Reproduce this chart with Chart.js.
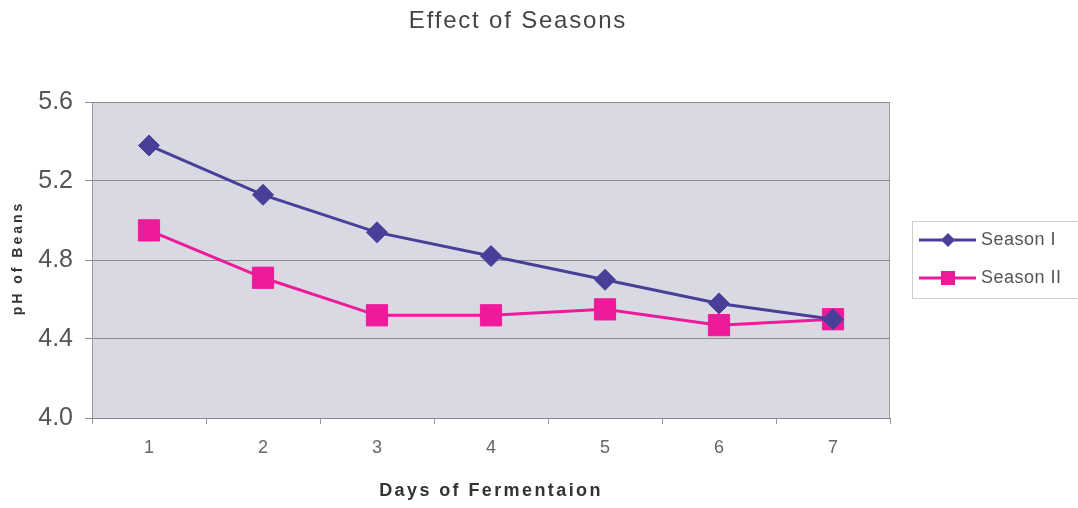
<!DOCTYPE html>
<html lang="en">
<head>
    <meta charset="UTF-8">
    <title>Effect of Seasons</title>
    <style>
        body {
            margin: 0;
            background: #ffffff;
        }

        .chart-box {
            width: 1078px;
            height: 508px;
        }
    </style>
    <script src="https://cdn.jsdelivr.net/npm/chart.js"></script>
</head>
<body>
    <div class="chart-box">
        <canvas id="phChart" width="1078" height="508"></canvas>
    </div>

    <script>
        const days = ['1', '2', '3', '4', '5', '6', '7'];
        const seasonOne = [5.38, 5.13, 4.94, 4.82, 4.70, 4.58, 4.50];
        const seasonTwo = [4.95, 4.71, 4.52, 4.52, 4.55, 4.47, 4.50];
        const yTicks = [4.0, 4.4, 4.8, 5.2, 5.6];

        const chartTitle = 'Effect of Seasons';
        const xTitle = 'Days of Fermentaion';
        const yTitle = 'pH of Beans';

        const blue = '#4a3f98';
        const pink = '#ee1a9a';
        const fontFamily = 'Arial, "Liberation Sans", sans-serif';

        // grey-lavender plot background with side borders
        const plotBackground = {
            id: 'plotBackground',
            beforeDraw(chart) {
                const { ctx, chartArea: a } = chart;
                ctx.save();
                ctx.fillStyle = '#d9d9e4';
                ctx.fillRect(a.left, a.top, a.right - a.left, a.bottom - a.top);
                ctx.strokeStyle = '#9a9a9a';
                ctx.lineWidth = 1;
                ctx.beginPath();
                ctx.moveTo(a.left + 0.5, a.top);
                ctx.lineTo(a.left + 0.5, a.bottom);
                ctx.moveTo(a.right - 0.5, a.top);
                ctx.lineTo(a.right - 0.5, a.bottom);
                ctx.stroke();
                ctx.restore();
            }
        };

        // titles are letter-spaced, so they are drawn here instead of by the built-in title boxes
        const spacedTitles = {
            id: 'spacedTitles',
            afterDraw(chart) {
                const { ctx, chartArea: a } = chart;
                ctx.save();
                ctx.textAlign = 'center';
                ctx.textBaseline = 'middle';

                ctx.fillStyle = '#444444';
                ctx.font = '24px ' + fontFamily;
                ctx.letterSpacing = '1.8px';
                ctx.fillText(chartTitle, 518, 21);

                ctx.fillStyle = '#333333';
                ctx.font = 'bold 18px ' + fontFamily;
                ctx.letterSpacing = '2.4px';
                ctx.fillText(xTitle, (a.left + a.right) / 2, 491);

                ctx.font = 'bold 14px ' + fontFamily;
                ctx.letterSpacing = '3px';
                ctx.translate(18, 258);
                ctx.rotate(-Math.PI / 2);
                ctx.fillText(yTitle, 0, 0);
                ctx.restore();
            }
        };

        // boxed legend with line + marker swatches
        const boxedLegend = {
            id: 'boxedLegend',
            afterDraw(chart) {
                const { ctx } = chart;
                const x = 912, y = 221, w = 170, h = 77;
                ctx.save();
                ctx.fillStyle = '#ffffff';
                ctx.fillRect(x, y, w, h);
                ctx.strokeStyle = '#cfcfcf';
                ctx.lineWidth = 1;
                ctx.strokeRect(x + 0.5, y + 0.5, w, h);

                chart.data.datasets.forEach((ds, i) => {
                    const cy = y + 19 + i * 38;
                    ctx.strokeStyle = ds.borderColor;
                    ctx.lineWidth = 3;
                    ctx.beginPath();
                    ctx.moveTo(x + 7, cy);
                    ctx.lineTo(x + 64, cy);
                    ctx.stroke();

                    ctx.fillStyle = ds.borderColor;
                    ctx.beginPath();
                    if (ds.pointStyle === 'rectRot') {
                        const r = 7;
                        ctx.moveTo(x + 36 - r, cy);
                        ctx.lineTo(x + 36, cy - r);
                        ctx.lineTo(x + 36 + r, cy);
                        ctx.lineTo(x + 36, cy + r);
                    } else {
                        ctx.rect(x + 29, cy - 7, 14, 14);
                    }
                    ctx.closePath();
                    ctx.fill();

                    ctx.fillStyle = '#555555';
                    ctx.font = '18px ' + fontFamily;
                    ctx.letterSpacing = '0.5px';
                    ctx.textBaseline = 'middle';
                    ctx.textAlign = 'left';
                    ctx.fillText(ds.label, x + 69, cy);
                });
                ctx.restore();
            }
        };

        const ctx = document.getElementById('phChart').getContext('2d');
        new Chart(ctx, {
            type: 'line',
            data: {
                labels: days,
                datasets: [
                    {
                        label: 'Season I',
                        data: seasonOne,
                        borderColor: blue,
                        backgroundColor: blue,
                        borderWidth: 3,
                        pointStyle: 'rectRot',
                        pointRadius: 10.5,
                        pointBorderWidth: 1,
                        tension: 0
                    },
                    {
                        label: 'Season II',
                        data: seasonTwo,
                        borderColor: pink,
                        backgroundColor: pink,
                        borderWidth: 3,
                        pointStyle: 'rect',
                        pointRadius: 15,
                        pointBorderWidth: 1,
                        tension: 0
                    }
                ]
            },
            options: {
                responsive: false,
                animation: false,
                layout: {
                    padding: { top: 102, left: 8, right: 188, bottom: 6 }
                },
                plugins: {
                    legend: { display: false },
                    tooltip: { enabled: false },
                    title: { display: false }
                },
                scales: {
                    x: {
                        offset: true,
                        grid: {
                            offset: true,
                            drawOnChartArea: false,
                            tickLength: 6,
                            color: '#9a9a9a'
                        },
                        border: { color: '#8a8a8a', width: 1 },
                        ticks: {
                            color: '#666666',
                            padding: 13,
                            font: { family: fontFamily, size: 18 }
                        },
                        afterFit(scale) {
                            scale.height = 84;
                        }
                    },
                    y: {
                        min: 4.0,
                        max: 5.6,
                        afterBuildTicks(scale) {
                            scale.ticks = yTicks.map(v => ({ value: v }));
                        },
                        grid: {
                            color: '#8c8c8c',
                            tickLength: 7,
                            lineWidth: 1
                        },
                        border: { display: false },
                        ticks: {
                            color: '#555555',
                            padding: 12,
                            font: { family: fontFamily, size: 25 },
                            callback: v => Number(v).toFixed(1)
                        },
                        afterFit(scale) {
                            scale.width = 84;
                        }
                    }
                }
            },
            plugins: [plotBackground, spacedTitles, boxedLegend]
        });
    </script>
</body>
</html>
